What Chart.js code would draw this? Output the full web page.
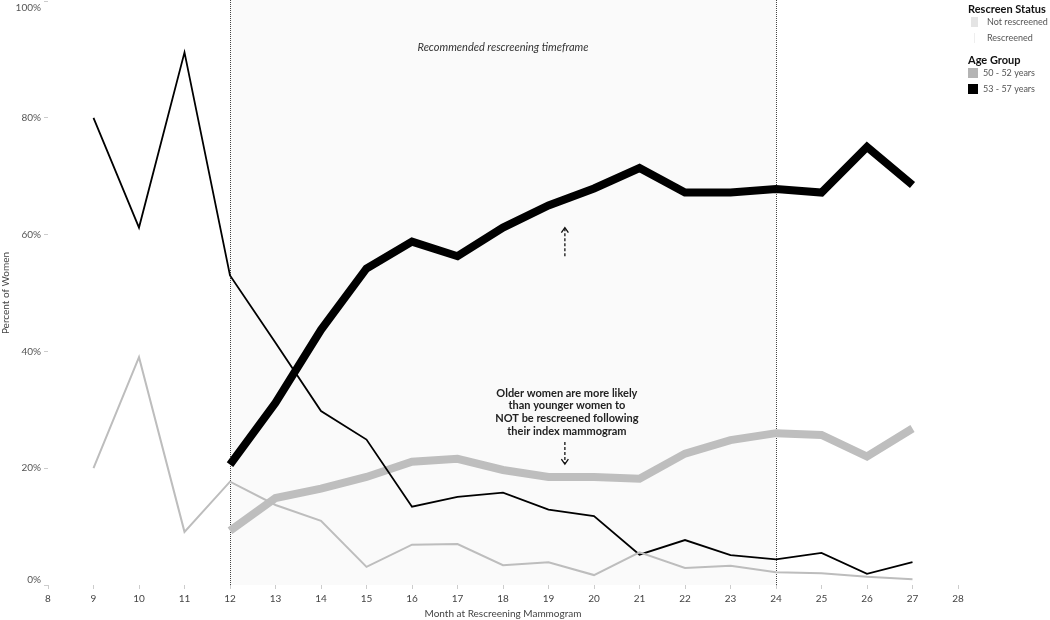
<!DOCTYPE html>
<html>
<head>
<meta charset="utf-8">
<script src="https://cdn.jsdelivr.net/npm/chart.js@4/dist/chart.umd.min.js"></script>
<style>
  html, body { margin: 0; padding: 0; background: #fff; }
  #wrap { width: 1050px; height: 620px; position: relative; }
</style>
</head>
<body>
<div id="wrap"><canvas id="chart" width="1050" height="620"></canvas></div>
<script>
// months on the x axis
const months = [9, 10, 11, 12, 13, 14, 15, 16, 17, 18, 19, 20, 21, 22, 23, 24, 25, 26, 27];

// percent of women
const notRescreened5052 = [20, 39, 9.1, 17.7, 13.7, 11, 3.1, 6.9, 7, 3.4, 3.9, 1.7, 5.6, 2.9, 3.3, 2.2, 2.0, 1.4, 1.0];
const notRescreened5357 = [80, 61.2, 91.2, 53, 41.5, 29.8, 24.9, 13.4, 15.1, 15.8, 12.9, 11.8, 5.2, 7.7, 5.1, 4.4, 5.5, 1.9, 3.9];
const rescreened5052 = [null, null, null, 9.3, 14.9, 16.5, 18.5, 21.1, 21.6, 19.7, 18.5, 18.5, 18.2, 22.5, 24.8, 26.0, 25.7, 22.0, 26.8];
const rescreened5357 = [null, null, null, 20.6, 31.2, 43.7, 54.2, 58.8, 56.3, 61.2, 65.0, 67.9, 71.4, 67.2, 67.2, 67.8, 67.2, 75.0, 68.5];

const yTicks = [0, 20, 40, 60, 80, 100];
const windowStart = 12;
const windowEnd = 24;

const annotationLines = [
    "Older women are more likely",
    "than younger women to",
    "NOT be rescreened following",
    "their index mammogram"
];

const FONT = "Lato, 'Open Sans', sans-serif";

function toPoints(values) {
    return months.map((m, i) => ({ x: m, y: values[i] }));
}

// shaded screening window + dotted borders
const windowPlugin = {
    id: "windowPlugin",
    beforeDatasetsDraw(chart) {
        const { ctx, chartArea, scales } = chart;
        const x1 = scales.x.getPixelForValue(windowStart);
        const x2 = scales.x.getPixelForValue(windowEnd);
        ctx.save();
        ctx.fillStyle = "#fafafa";
        ctx.fillRect(x1, 0, x2 - x1, chartArea.bottom);
        ctx.strokeStyle = "#444";
        ctx.lineWidth = 1;
        ctx.setLineDash([1, 1]);
        [x1, x2].forEach(x => {
            ctx.beginPath();
            ctx.moveTo(Math.round(x) + 0.5, 0);
            ctx.lineTo(Math.round(x) + 0.5, chartArea.bottom);
            ctx.stroke();
        });
        ctx.restore();
    }
};

function dashedArrow(ctx, x, yFrom, yTo) {
    ctx.save();
    ctx.strokeStyle = "#111";
    ctx.lineWidth = 1.3;
    ctx.setLineDash([3, 2]);
    ctx.beginPath();
    ctx.moveTo(x, yFrom);
    ctx.lineTo(x, yTo);
    ctx.stroke();
    ctx.setLineDash([]);
    const dir = yTo < yFrom ? 1 : -1;
    ctx.beginPath();
    ctx.moveTo(x - 3.5, yTo + dir * 5);
    ctx.lineTo(x, yTo);
    ctx.lineTo(x + 3.5, yTo + dir * 5);
    ctx.stroke();
    ctx.restore();
}

const notesPlugin = {
    id: "notesPlugin",
    afterDraw(chart) {
        const { ctx, scales } = chart;
        const xs = scales.x, ys = scales.y;
        ctx.save();

        // end labels of the y axis, kept inside the canvas
        ctx.font = "10px " + FONT;
        ctx.fillStyle = "#555";
        ctx.textAlign = "right";
        ctx.textBaseline = "middle";
        ctx.fillText(yTicks[yTicks.length - 1] + "%", ys.right - 7, Math.max(ys.getPixelForValue(100), 8));
        ctx.fillText(yTicks[0] + "%", ys.right - 7, Math.min(ys.getPixelForValue(0), 580));

        // window title
        ctx.fillStyle = "#333";
        ctx.font = "italic 11px " + FONT;
        ctx.textAlign = "center";
        ctx.fillText("Recommended rescreening timeframe", (xs.getPixelForValue(windowStart) + xs.getPixelForValue(windowEnd)) / 2, 47);

        // callout
        const ax = xs.getPixelForValue(19.36);
        ctx.font = "bold 11px " + FONT;
        ctx.fillStyle = "#222";
        annotationLines.forEach((line, i) => {
            ctx.fillText(line, ax + 2, 393 + i * 12.8);
        });
        dashedArrow(ctx, ax, ys.getPixelForValue(56.3), ys.getPixelForValue(61.2));
        dashedArrow(ctx, ax, ys.getPixelForValue(24.5), ys.getPixelForValue(20.7));

        // legend
        ctx.textAlign = "left";
        ctx.fillStyle = "#111";
        ctx.font = "bold 11px " + FONT;
        ctx.fillText("Rescreen Status", 968, 9);
        ctx.fillText("Age Group", 968, 60);

        ctx.font = "9px " + FONT;
        ctx.fillStyle = "#555";
        ctx.fillText("Not rescreened", 987, 22);
        ctx.fillText("Rescreened", 987, 38);
        ctx.fillText("50 - 52 years", 983, 73);
        ctx.fillText("53 - 57 years", 983, 89);

        ctx.fillStyle = "#e4e4e4";
        ctx.fillRect(971, 17, 7, 10);
        ctx.fillStyle = "#eeeeee";
        ctx.fillRect(974, 33, 1, 10);
        ctx.fillStyle = "#b4b4b4";
        ctx.fillRect(968, 68, 10, 10);
        ctx.fillStyle = "#000";
        ctx.fillRect(968, 84, 10, 10);

        ctx.restore();
    }
};

new Chart(document.getElementById("chart"), {
    type: "line",
    data: {
        datasets: [
            {
                label: "Not rescreened, 50 - 52 years",
                data: toPoints(notRescreened5052),
                borderColor: "#bdbdbd",
                borderWidth: 2
            },
            {
                label: "Not rescreened, 53 - 57 years",
                data: toPoints(notRescreened5357),
                borderColor: "#000",
                borderWidth: 1.8
            },
            {
                label: "Rescreened, 50 - 52 years",
                data: toPoints(rescreened5052),
                borderColor: "#bebebe",
                borderWidth: 8
            },
            {
                label: "Rescreened, 53 - 57 years",
                data: toPoints(rescreened5357),
                borderColor: "#000",
                borderWidth: 8
            }
        ]
    },
    options: {
        responsive: false,
        animation: false,
        layout: { padding: { top: 1, right: 92, left: 0, bottom: 0 } },
        elements: {
            point: { radius: 0 },
            line: { tension: 0, borderJoinStyle: "miter", borderCapStyle: "butt" }
        },
        plugins: {
            legend: { display: false },
            tooltip: { enabled: false }
        },
        scales: {
            x: {
                type: "linear",
                min: 8,
                max: 28,
                afterFit(scale) { scale.height = 35; },
                ticks: { stepSize: 1, color: "#444", font: { family: FONT, size: 10 }, padding: 4 },
                grid: { drawOnChartArea: false, drawTicks: true, tickLength: 4, color: "#ccc" },
                border: { display: false },
                title: {
                    display: true,
                    text: "Month at Rescreening Mammogram",
                    color: "#444",
                    font: { family: FONT, size: 10 },
                    padding: { top: 0, bottom: 0 }
                }
            },
            y: {
                min: 0,
                max: 100,
                afterFit(scale) {
                    scale.width = 48;
                    scale.paddingTop = 0;
                    scale.paddingBottom = 0;
                },
                afterBuildTicks(scale) { scale.ticks = yTicks.map(v => ({ value: v })); },
                ticks: {
                    color: "#555",
                    font: { family: FONT, size: 10 },
                    padding: 3,
                    // the two end labels are drawn by notesPlugin so they stay on the canvas
                    callback: v => (v === 0 || v === 100) ? "" : v + "%"
                },
                grid: { drawOnChartArea: false, drawTicks: true, tickLength: 4, color: "#ccc" },
                border: { display: false },
                title: {
                    display: true,
                    text: "Percent of Women",
                    color: "#444",
                    font: { family: FONT, size: 10 },
                    padding: { top: 0, bottom: 0 }
                }
            }
        }
    },
    plugins: [windowPlugin, notesPlugin]
});
</script>
</body>
</html>
